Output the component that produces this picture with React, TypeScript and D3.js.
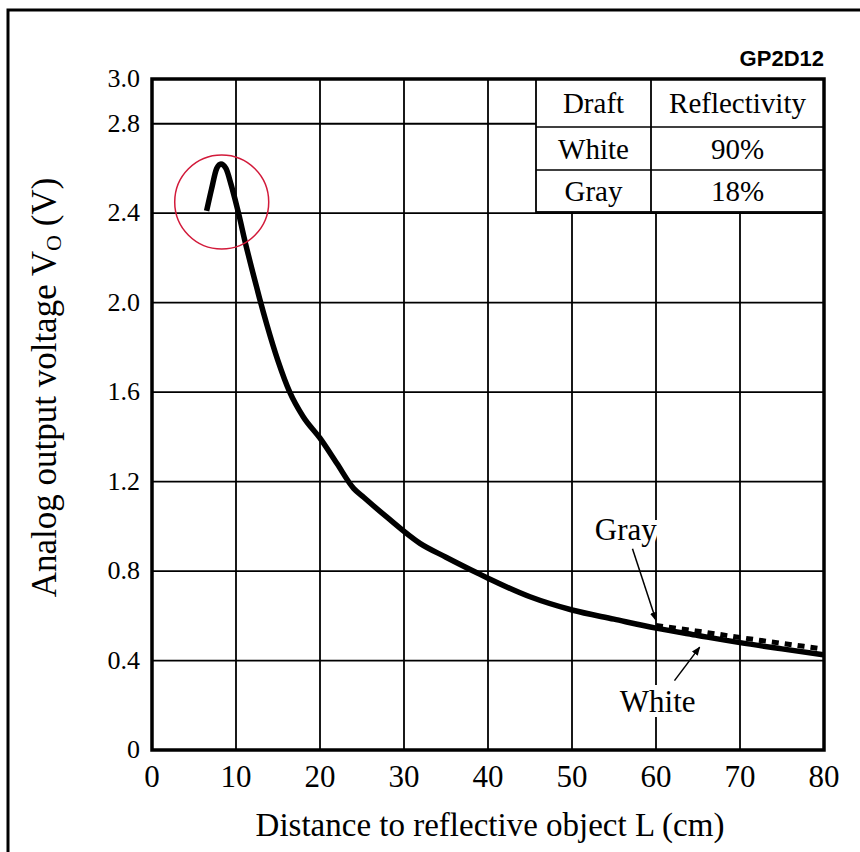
import React from 'react';
import * as d3 from 'd3';

// values
const distance = [6.5, 7.1, 7.7, 8.2, 8.8, 9.4, 9.9, 10.3, 11.1, 12.0, 12.8, 13.65, 15.0, 16.4, 18, 20, 22, 24, 25.2, 27.9, 31.9, 35, 38.8, 40, 45, 50, 55, 60, 65, 70, 75, 80];
const whiteVoltage = [2.41, 2.51, 2.6, 2.62, 2.6, 2.53, 2.46, 2.4, 2.27, 2.135, 2.02, 1.905, 1.74, 1.6, 1.49, 1.394, 1.282, 1.17, 1.13, 1.043, 0.924, 0.862, 0.79, 0.768, 0.685, 0.626, 0.585, 0.545, 0.512, 0.48, 0.452, 0.425];
const grayDistance = [60, 65, 70, 75, 80];
const grayVoltage = [0.548, 0.522, 0.494, 0.468, 0.442];

const xTicks = [0, 10, 20, 30, 40, 50, 60, 70, 80];
const yTicks = [0, 0.4, 0.8, 1.2, 1.6, 2.0, 2.4, 2.8, 3.0];
const yLabels = ['0', '0.4', '0.8', '1.2', '1.6', '2.0', '2.4', '2.8', '3.0'];

const tableHeader = ['Draft', 'Reflectivity'];
const tableRows = [['White', '90%'], ['Gray', '18%']];

const serif = '"Liberation Serif", "DejaVu Serif", serif';

export default function App() {
  const left = 152, right = 824, top = 79, bottom = 750;
  const x = d3.scaleLinear().domain([0, 80]).range([left, right]);
  const y = d3.scaleLinear().domain([0, 3]).range([bottom, top]);

  const line = d3.line<[number, number]>()
    .x(d => x(d[0]))
    .y(d => y(d[1]))
    .curve(d3.curveMonotoneX);

  const whitePath = line(distance.map((d, i) => [d, whiteVoltage[i]]) as [number, number][]);
  const grayPath = line(grayDistance.map((d, i) => [d, grayVoltage[i]]) as [number, number][]);

  // table geometry
  const tLeft = 536, tMid = 651, tRight = right;
  const rowY = [top, 127, 170, 212];

  return (
    <svg width={860} height={852} style={{ position: 'absolute', left: 0, top: 0, background: '#fff' }}>
      <defs>
        <marker id="arr" viewBox="0 0 10 10" refX="9" refY="5" markerWidth="6" markerHeight="6" orient="auto">
          <path d="M0,1 L10,5 L0,9 z" fill="#000" />
        </marker>
      </defs>
      {/* outer frame */}
      <path d="M8,860 L8,10 L862,10" fill="none" stroke="#000" strokeWidth={3} />

      <text x={right} y={66} textAnchor="end" fontFamily='"Liberation Sans", Arial, sans-serif' fontWeight="bold" fontSize={22}>GP2D12</text>

      {/* grid */}
      {xTicks.slice(1, -1).map(t => (
        <line key={'gx' + t} x1={x(t)} x2={x(t)} y1={top} y2={bottom} stroke="#000" strokeWidth={1.8} />
      ))}
      {yTicks.slice(1, -1).map(t => (
        <line key={'gy' + t} x1={left} x2={right} y1={y(t)} y2={y(t)} stroke="#000" strokeWidth={1.8} />
      ))}

      {/* table */}
      <rect x={tLeft} y={top} width={tRight - tLeft} height={rowY[3] - top} fill="#fff" stroke="#000" strokeWidth={1.8} />
      <line x1={tMid} x2={tMid} y1={top} y2={rowY[3]} stroke="#000" strokeWidth={1.8} />
      {rowY.slice(1, 3).map(r => (
        <line key={'r' + r} x1={tLeft} x2={tRight} y1={r} y2={r} stroke="#000" strokeWidth={1.6} />
      ))}
      {[tableHeader, ...tableRows].map((row, i) => (
        <g key={'row' + i} fontFamily={serif} fontSize={29} textAnchor="middle">
          <text x={(tLeft + tMid) / 2} y={(rowY[i] + rowY[i + 1]) / 2 + 10}>{row[0]}</text>
          <text x={(tMid + tRight) / 2} y={(rowY[i] + rowY[i + 1]) / 2 + 10}>{row[1]}</text>
        </g>
      ))}

      {/* plot border */}
      <rect x={left} y={top} width={right - left} height={bottom - top} fill="none" stroke="#000" strokeWidth={3.5} />

      {/* curves */}
      <path d={grayPath ?? ''} fill="none" stroke="#000" strokeWidth={5} strokeDasharray="7 6" transform="translate(0,-2)" />
      <path d={whitePath ?? ''} fill="none" stroke="#000" strokeWidth={5.5} strokeLinejoin="round" />

      {/* highlight circle */}
      <circle cx={x(8.3)} cy={y(2.45)} r={47} fill="none" stroke="#d21a3a" strokeWidth={1.5} />

      {/* annotations */}
      <text x={x(56.4)} y={540} textAnchor="middle" fontFamily={serif} fontSize={31}
        stroke="#fff" strokeWidth={10} paintOrder="stroke">Gray</text>
      <line x1={x(57.2)} y1={y(0.9)} x2={x(60)} y2={y(0.58)} stroke="#000" strokeWidth={1.5} markerEnd="url(#arr)" />
      <text x={x(60.2)} y={712} textAnchor="middle" fontFamily={serif} fontSize={31}
        stroke="#fff" strokeWidth={10} paintOrder="stroke">White</text>
      <line x1={x(62.2)} y1={y(0.31)} x2={x(65.2)} y2={y(0.46)} stroke="#000" strokeWidth={1.5} markerEnd="url(#arr)" />

      {/* axis labels */}
      {xTicks.map(t => (
        <text key={'xl' + t} x={x(t)} y={787} textAnchor="middle" fontFamily={serif} fontSize={31}>{t}</text>
      ))}
      {yTicks.map((t, i) => (
        <text key={'yl' + t} x={140} y={y(t) + 8} textAnchor="end" fontFamily={serif} fontSize={26}>{yLabels[i]}</text>
      ))}
      <text x={(left + right) / 2 + 2} y={836} textAnchor="middle" fontFamily={serif} fontSize={33}>Distance to reflective object L (cm)</text>
      <text transform={`translate(56, ${(top + bottom) / 2 - 27}) rotate(-90)`} textAnchor="middle" fontFamily={serif} fontSize={35}>
        Analog output voltage V<tspan fontSize={22} dy={5}>O</tspan><tspan dy={-5}> (V)</tspan>
      </text>
    </svg>
  );
}
